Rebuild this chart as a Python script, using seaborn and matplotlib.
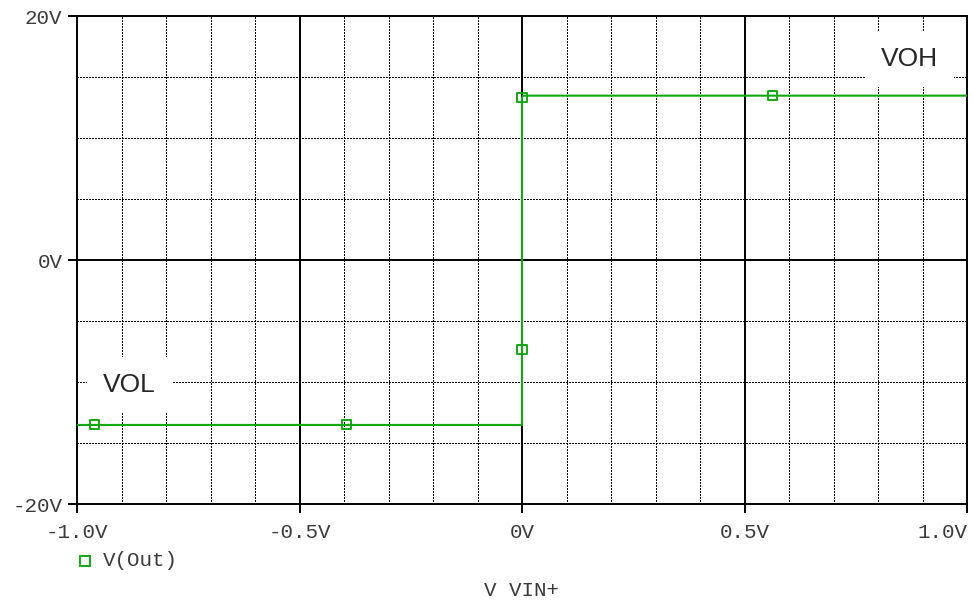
import matplotlib
matplotlib.use("Agg")
import matplotlib.pyplot as plt
from matplotlib.lines import Line2D
import numpy as np
import pandas as pd
import seaborn as sns

# Comparator transfer curve: V(Out) versus the swept input VIN+
vin = [-1.0, 0.0, 0.0, 0.002, 1.0]
vout = [-13.52, -13.52, 13.30, 13.47, 13.47]

# Sample points marked on the trace
mark_vin = [-0.961, -0.395, 0.0, 0.0, 0.562]
mark_vout = [-13.52, -13.52, -7.32, 13.30, 13.47]

x_ticks = [-1.0, -0.5, 0.0, 0.5, 1.0]
x_tick_labels = ["-1.0V", "-0.5V", "0V", "0.5V", "1.0V"]
y_ticks = [-20, 0, 20]
y_tick_labels = ["-20V", "0V", "20V"]
x_minor = [-0.9, -0.8, -0.7, -0.6, -0.4, -0.3, -0.2, -0.1,
           0.1, 0.2, 0.3, 0.4, 0.6, 0.7, 0.8, 0.9]
y_minor = [-15, -10, -5, 5, 10, 15]

trace_label = "V(Out)"
x_label = "V VIN+"
level_labels = ["VOH", "VOL"]

sns.set_style("white")
plt.rcParams["font.family"] = ["Liberation Mono", "DejaVu Sans Mono"]

GREEN = "#12a812"
TXT = "#3a3a3a"
W, H = 973, 601
fig = plt.figure(figsize=(W / 100, H / 100), dpi=100)
L, R, T, B = 77, 967, 16, 504
ax = fig.add_axes([L / W, 1 - B / H, (R - L) / W, (B - T) / H])

df = pd.DataFrame({"vin": vin, "vout": vout})
mk = pd.DataFrame({"vin": mark_vin, "vout": mark_vout})

sns.lineplot(data=df, x="vin", y="vout", sort=False, estimator=None,
             color=GREEN, linewidth=1.5, ax=ax, zorder=5)
sns.scatterplot(data=mk, x="vin", y="vout", marker="s", s=42,
                facecolor="none", edgecolor=GREEN, linewidth=1.4,
                ax=ax, zorder=6)

ax.set_xlim(-1.0, 1.0)
ax.set_ylim(-20, 20)

# Dotted minor grid and solid major divisions
dot = dict(color="black", linewidth=1.0, linestyle=(0, (0.75, 0.75)),
           antialiased=False, zorder=1)
for xv in x_minor:
    ax.axvline(xv, **dot)
for yv in y_minor:
    ax.axhline(yv, **dot)
for xv in x_ticks[1:-1]:
    ax.axvline(xv, color="black", linewidth=1.4, zorder=2)
for yv in y_ticks[1:-1]:
    ax.axhline(yv, color="black", linewidth=1.4, zorder=2)

ax.set_xticks(x_ticks)
ax.set_xticklabels(x_tick_labels)
ax.set_yticks(y_ticks)
ax.set_yticklabels(y_tick_labels)
ax.tick_params(axis="both", direction="out", length=6.5, width=1.4,
               color="black", labelsize=15, labelcolor=TXT,
               bottom=True, left=True)
ax.tick_params(axis="x", pad=7)
ax.tick_params(axis="y", pad=4)
# the last x label ends flush with the axis end
ax.get_xticklabels()[-1].set_horizontalalignment("right")
ax.set_xlabel("")
ax.set_ylabel("")

for s in ax.spines.values():
    s.set_visible(True)
    s.set_color("black")
    s.set_linewidth(1.4)

box = dict(boxstyle="square,pad=0.6", facecolor="white", edgecolor="none")
ax.text(0.870, 16.5, level_labels[0], family="Liberation Sans", fontsize=19,
        ha="center", va="center", bbox=box, zorder=4)
ax.text(-0.882, -10.22, level_labels[1], family="Liberation Sans", fontsize=19,
        ha="center", va="center", bbox=box, zorder=4)

# Trace legend and x-axis caption below the plot
fig.add_artist(Line2D([85 / W], [1 - 561 / H], marker="s", markersize=6.5,
                      markerfacecolor="none", markeredgecolor=GREEN,
                      markeredgewidth=1.4, linestyle="none",
                      transform=fig.transFigure))
fig.text(103 / W, 1 - 561 / H, trace_label, fontsize=15, color=TXT,
         ha="left", va="center")
fig.text((L + R) / 2 / W, 1 - 590 / H, x_label, fontsize=15, color=TXT,
         ha="center", va="center")

fig.savefig("out.png", dpi=100, facecolor="white")
